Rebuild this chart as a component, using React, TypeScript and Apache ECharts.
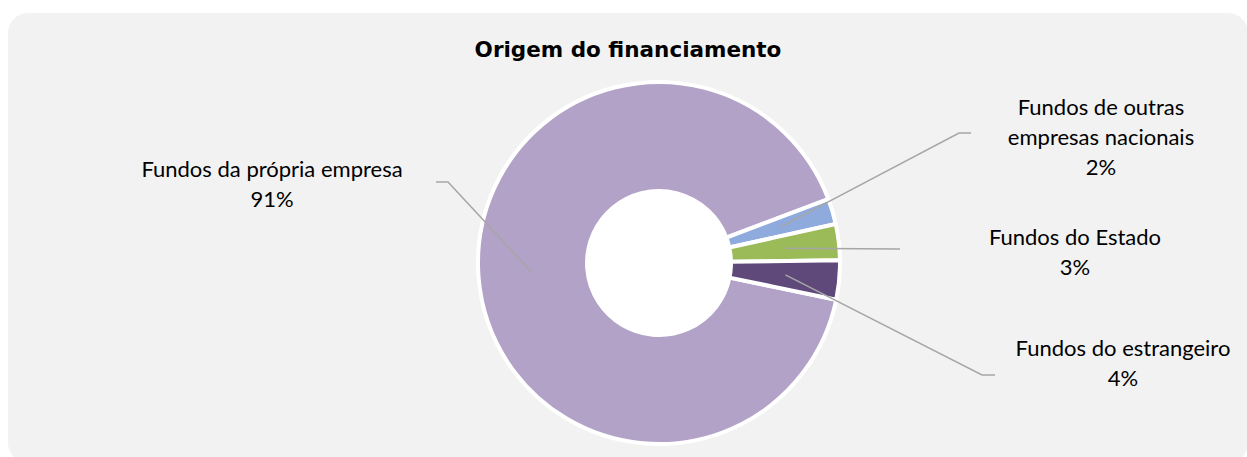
import React, { useEffect, useRef } from "react";
import * as echarts from "echarts";

// ---- data ----
const categories = [
  "Fundos da própria empresa",
  "Fundos de outras empresas nacionais",
  "Fundos do Estado",
  "Fundos do estrangeiro",
];
const labelTexts = [
  "Fundos da própria empresa",
  "Fundos de outras\nempresas nacionais",
  "Fundos do Estado",
  "Fundos do estrangeiro",
];
const values = [91.0, 2.3, 3.2, 3.5];
const colors = ["#B3A2C7", "#8FAADC", "#9BBB59", "#5F497A"];
const title = "Origem do financiamento";

// ---- layout (label centres and leader-line bends, chart pixels) ----
const labelPos = [
  { x: 264, y: 170, bend: [440, 169], end: [428, 169] },
  { x: 1093, y: 123, bend: [951, 120], end: [963, 120] },
  { x: 1067, y: 238, bend: null, end: [892, 236] },
  { x: 1115, y: 349, bend: [974, 362], end: [987, 362] },
];

const CENTER = [651, 250];
const R_IN = 72;
const R_OUT = 181;
const R_MID = 127;
const START = -11.7;

export default function App() {
  const ref = useRef<HTMLDivElement>(null);
  useEffect(() => {
    if (!ref.current) return;
    const chart = echarts.init(ref.current, null, { renderer: "svg" });
    const data = categories.map((name, i) => ({
      name,
      value: values[i],
      itemStyle: { color: colors[i] },
    }));
    chart.setOption({
      animation: false,
      title: {
        text: title,
        left: "center",
        top: 23,
        padding: 0,
        textStyle: {
          fontFamily: "DejaVu Sans",
          fontWeight: "bold",
          fontSize: 21.5,
          lineHeight: 26,
          color: "#000",
        },
      },
      series: [
        {
          type: "pie",
          silent: true,
          center: CENTER,
          radius: [0, R_IN],
          startAngle: START,
          label: { show: false },
          labelLine: { show: false },
          itemStyle: { color: "#ffffff", borderColor: "#ffffff", borderWidth: 2 },
          data: categories.map((name, i) => ({ name, value: values[i] })),
          z: 1,
        },
        {
          type: "pie",
          silent: true,
          center: CENTER,
          radius: [R_IN, R_OUT],
          startAngle: START,
          clockwise: true,
          avoidLabelOverlap: false,
          label: { show: false },
          labelLine: { show: false },
          itemStyle: { borderColor: "#ffffff", borderWidth: 4 },
          data,
          z: 2,
        },
        {
          type: "pie",
          silent: true,
          center: CENTER,
          radius: [0, R_MID],
          startAngle: START,
          clockwise: true,
          avoidLabelOverlap: false,
          itemStyle: { color: "rgba(0,0,0,0)", borderWidth: 0 },
          label: {
            show: true,
            position: "outside",
            fontFamily: "Lato",
            fontSize: 22,
            lineHeight: 30,
            color: "#000",
            formatter: (p: any) =>
              labelTexts[p.dataIndex] + "\n" + Math.round(p.percent) + "%",
          },
          labelLine: {
            show: true,
            length: 10,
            length2: 10,
            lineStyle: { color: "#A6A6A6", width: 1.5 },
          },
          labelLayout: (params: any) => {
            const L = labelPos[params.dataIndex];
            const start =
              params.labelLinePoints && params.labelLinePoints[0]
                ? params.labelLinePoints[0]
                : L.end;
            const pts = L.bend ? [start, L.bend, L.end] : [start, L.end];
            return {
              x: L.x,
              y: L.y,
              align: "center",
              verticalAlign: "middle",
              labelLinePoints: pts,
            };
          },
          data: categories.map((name, i) => ({ name, value: values[i] })),
          z: 3,
        },
      ],
    });
    return () => chart.dispose();
  }, []);
  return (
    <div
      style={{
        position: "fixed",
        left: 8,
        top: 13,
        width: 1240,
        height: 450,
        background: "#f2f2f2",
        borderRadius: 20,
        overflow: "hidden",
      }}
    >
      <div ref={ref} style={{ width: 1240, height: 450 }} />
    </div>
  );
}
